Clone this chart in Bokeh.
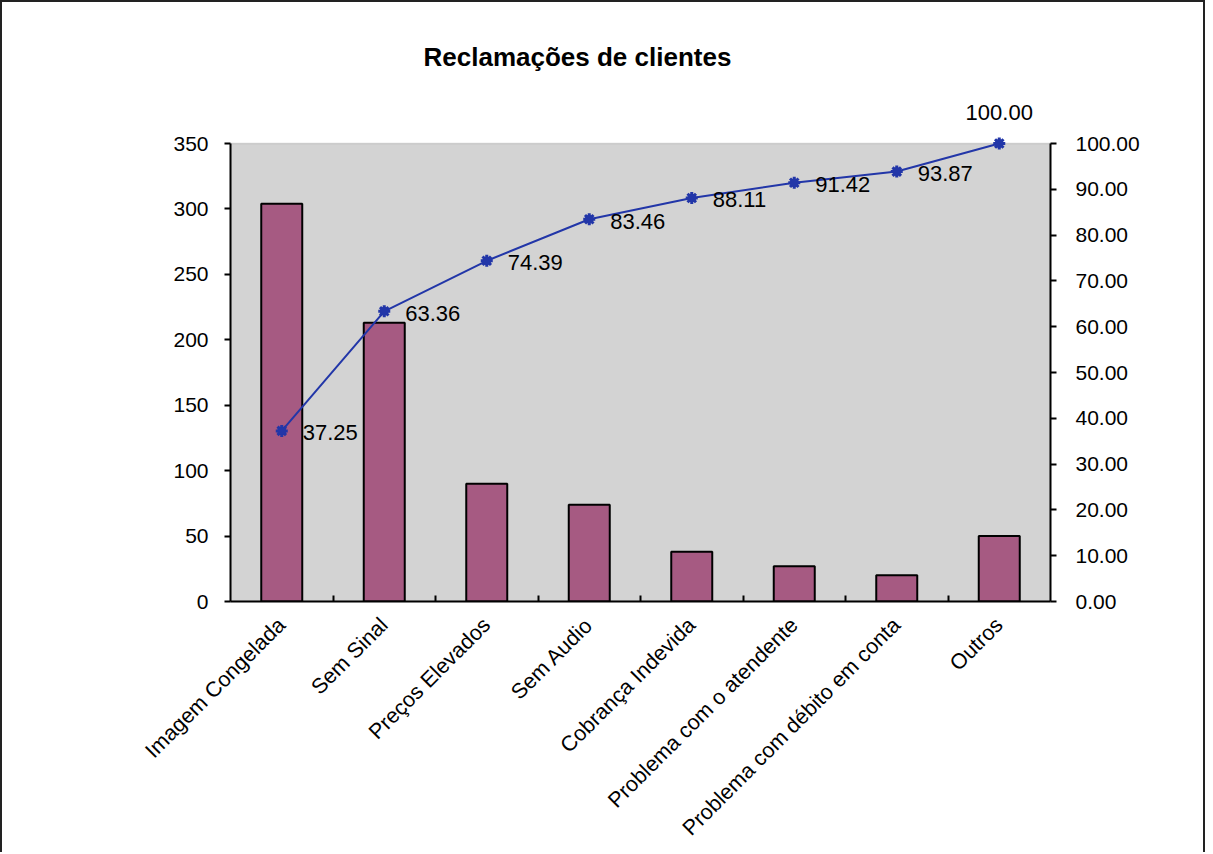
import math
from bokeh.plotting import figure
from bokeh.models import (Range1d, LinearAxis, FixedTicker, BoxAnnotation,
                          ColumnDataSource, LabelSet, NumeralTickFormatter)
from bokeh.core.properties import value
from bokeh.embed import file_html
from bokeh.resources import INLINE

# ---- data -----------------------------------------------------------
categories = ["Imagem Congelada", "Sem Sinal", "Preços Elevados", "Sem Audio",
              "Cobrança Indevida", "Problema com o atendente",
              "Problema com débito em conta", "Outros"]
counts = [304, 213, 90, 74, 38, 27, 20, 50]
cum_pct = [37.25, 63.36, 74.39, 83.46, 88.11, 91.42, 93.87, 100.00]
left_ticks = [0, 50, 100, 150, 200, 250, 300, 350]
right_ticks = [0, 10, 20, 30, 40, 50, 60, 70, 80, 90, 100]
title_text = "Reclamações de clientes"

# ---- styling ----------------------------------------------------------
FONT = "Liberation Sans"
BAR = "#A65A82"
LINE = "#2236A8"
GRAY = "#D3D3D3"

n = len(categories)
centers = [i + 0.5 for i in range(n)]
boundaries = [i for i in range(1, n)]

W, H = 1205, 852
plot_px = 458          # pixel height of the 0..350 area
pad_px = 45            # extra room above for the top marker and its label
y_top = left_ticks[-1] * (plot_px + pad_px) / plot_px
p_top = right_ticks[-1] * (plot_px + pad_px) / plot_px

p = figure(width=W, height=H, x_range=Range1d(0, n), y_range=Range1d(0, y_top),
           output_backend="svg", toolbar_location=None,
           x_axis_location=None, y_axis_location=None,
           min_border_left=228, min_border_right=157,
           min_border_top=96, min_border_bottom=253)
p.extra_y_ranges = {"pct": Range1d(0, p_top)}
p.outline_line_color = None
p.background_fill_color = "white"
p.border_fill_color = "white"
for g in p.grid:
    g.visible = False
p.styles = {"border-left": "2px solid #222", "border-top": "2px solid #222",
            "border-right": "2px solid #222"}

# gray plot area
p.add_layout(BoxAnnotation(left=0, right=n, bottom=0, top=left_ticks[-1],
                           fill_color=GRAY, fill_alpha=1.0,
                           line_color="#8A8A8A", line_width=1.5,
                           level="underlay"))

src = ColumnDataSource(dict(x=centers, count=counts, pct=cum_pct))
p.vbar(x="x", top="count", width=0.4, source=src, fill_color=BAR,
       line_color="black", line_width=2)

p.line("x", "pct", source=src, y_range_name="pct", line_color=LINE, line_width=2)
p.scatter("x", "pct", source=src, y_range_name="pct", marker="asterisk",
          size=12, line_color=LINE, line_width=3)
p.scatter("x", "pct", source=src, y_range_name="pct", marker="circle",
          size=8, fill_color=LINE, line_color=LINE)

# data labels
src_a = ColumnDataSource(dict(x=centers[:-1], pct=cum_pct[:-1],
                              lbl=[f"{v:.2f}" for v in cum_pct[:-1]]))
src_b = ColumnDataSource(dict(x=centers[-1:], pct=cum_pct[-1:],
                              lbl=[f"{v:.2f}" for v in cum_pct[-1:]]))
p.add_layout(LabelSet(x="x", y="pct", text="lbl", source=src_a, y_range_name="pct",
                      x_offset=21, y_offset=-2, text_align="left",
                      text_baseline="middle", text_font=value(FONT),
                      text_font_size=value("22px"), text_color=value("black")))
p.add_layout(LabelSet(x="x", y="pct", text="lbl", source=src_b, y_range_name="pct",
                      x_offset=0, y_offset=31, text_align="center",
                      text_baseline="middle", text_font=value(FONT),
                      text_font_size=value("22px"), text_color=value("black")))

def style_axis(ax):
    ax.axis_line_color = "black"
    ax.axis_line_width = 2
    ax.major_tick_line_color = "black"
    ax.major_tick_line_width = 2
    ax.minor_tick_line_color = "black"
    ax.minor_tick_line_width = 2
    ax.major_label_text_font = FONT
    ax.major_label_text_font_size = "21px"
    ax.major_label_text_color = "black"

left = LinearAxis(ticker=FixedTicker(ticks=left_ticks), bounds=(0, left_ticks[-1]),
                  major_tick_out=6, major_tick_in=0, minor_tick_out=0, minor_tick_in=0,
                  major_label_standoff=16)
style_axis(left)
p.add_layout(left, "left")

right = LinearAxis(y_range_name="pct", ticker=FixedTicker(ticks=right_ticks),
                   formatter=NumeralTickFormatter(format="0.00"),
                   bounds=(0, right_ticks[-1]),
                   major_tick_out=6, major_tick_in=0, minor_tick_out=0, minor_tick_in=0,
                   major_label_standoff=19)
style_axis(right)
p.add_layout(right, "right")

bottom = LinearAxis(ticker=FixedTicker(ticks=centers, minor_ticks=boundaries),
                    major_label_overrides={c: t for c, t in zip(centers, categories)},
                    major_label_orientation=math.pi / 4,
                    major_tick_in=0, major_tick_out=0,
                    minor_tick_in=6, minor_tick_out=0,
                    major_label_standoff=20)
style_axis(bottom)
bottom.major_label_text_font_size = "21.5px"
p.add_layout(bottom, "below")

p.title.text = title_text
p.title.align = "left"
p.title.offset = 193
p.title.standoff = 54
p.title.text_font = FONT
p.title.text_font_size = "26px"
p.title.text_font_style = "bold"
p.title.text_color = "black"

open("out.html", "w").write(file_html(p, INLINE))
